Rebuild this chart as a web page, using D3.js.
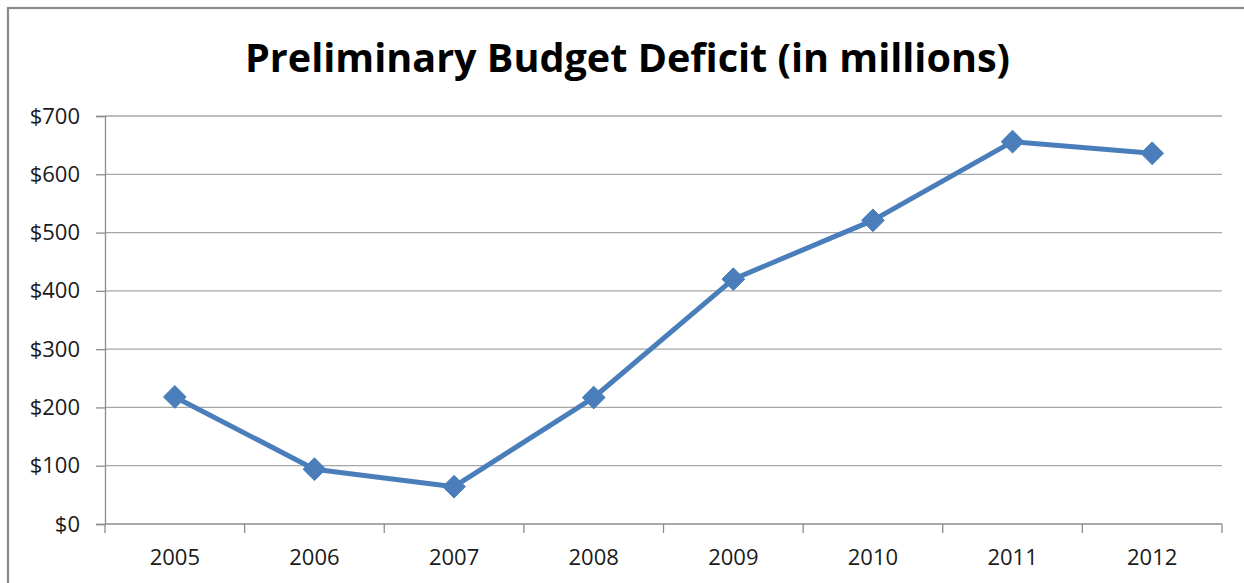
<!DOCTYPE html>
<html>
<head>
<meta charset="utf-8">
<script src="https://cdn.jsdelivr.net/npm/d3@7"></script>
<style>
  html, body { margin: 0; padding: 0; background: #fff; }
  svg { display: block; }
</style>
</head>
<body>
<svg id="chart" width="1244" height="583"></svg>
<script>
// Preliminary budget deficit by year, in millions of dollars
const years = ["2005", "2006", "2007", "2008", "2009", "2010", "2011", "2012"];
const deficit = [218, 94, 64, 217, 420, 521, 656, 636];
const yTicks = [0, 100, 200, 300, 400, 500, 600, 700];
const titleText = "Preliminary Budget Deficit (in millions)";

const svg = d3.select("#chart");
const W = 1244, H = 583;
const plot = { left: 105, right: 1222, top: 116, bottom: 524 };
const font = "'Open Sans', 'DejaVu Sans', sans-serif";

// Chart frame
svg.append("rect")
  .attr("x", 8).attr("y", 8)
  .attr("width", W + 20).attr("height", H + 20)
  .attr("fill", "#fff")
  .attr("stroke", "#8a8a8a")
  .attr("stroke-width", 2.2);

// Title
svg.append("text")
  .attr("x", 245).attr("y", 72)
  .attr("font-family", font)
  .attr("font-weight", 700)
  .attr("font-size", 39)
  .attr("fill", "#000")
  .attr("textLength", 765)
  .attr("lengthAdjust", "spacingAndGlyphs")
  .text(titleText);

const x = d3.scaleBand().domain(years).range([plot.left, plot.right]);
const y = d3.scaleLinear().domain([0, 700]).range([plot.bottom, plot.top]);

// Horizontal gridlines
svg.append("g")
  .selectAll("line")
  .data(yTicks.filter(t => t > 0))
  .join("line")
  .attr("x1", plot.left).attr("x2", plot.right)
  .attr("y1", d => y(d)).attr("y2", d => y(d))
  .attr("stroke", "#a6a6a6")
  .attr("stroke-width", 1.3);

// Y axis
const yAxis = svg.append("g")
  .attr("transform", `translate(${plot.left},0)`)
  .call(d3.axisLeft(y).tickValues(yTicks).tickSize(9).tickPadding(16)
    .tickFormat(d => "$" + d));
yAxis.select(".domain").attr("stroke", "#8c8c8c").attr("stroke-width", 1.3);
yAxis.selectAll(".tick line").attr("stroke", "#8c8c8c").attr("stroke-width", 1.3);
yAxis.selectAll(".tick text")
  .attr("font-family", font)
  .attr("font-size", 22)
  .attr("fill", "#1a1a1a");

// X axis with ticks between categories
const xAxis = svg.append("g")
  .attr("transform", `translate(0,${plot.bottom})`);
xAxis.append("line")
  .attr("x1", plot.left).attr("x2", plot.right)
  .attr("stroke", "#8c8c8c").attr("stroke-width", 1.3);
const boundaries = years.map(d => x(d)).concat([x(years[years.length - 1]) + x.bandwidth()]);
xAxis.selectAll("line.tick")
  .data(boundaries)
  .join("line")
  .attr("class", "tick")
  .attr("x1", d => d).attr("x2", d => d)
  .attr("y1", 0).attr("y2", 9)
  .attr("stroke", "#8c8c8c").attr("stroke-width", 1.3);
xAxis.selectAll("text")
  .data(years)
  .join("text")
  .attr("x", d => x(d) + x.bandwidth() / 2)
  .attr("y", 41)
  .attr("text-anchor", "middle")
  .attr("font-family", font)
  .attr("font-size", 22)
  .attr("fill", "#1a1a1a")
  .text(d => d);

// Series line
const pts = years.map((yr, i) => ({ yr, v: deficit[i] }));
const cx = d => x(d.yr) + x.bandwidth() / 2;

svg.append("path")
  .datum(pts)
  .attr("fill", "none")
  .attr("stroke", "#4a7ebb")
  .attr("stroke-width", 5)
  .attr("stroke-linejoin", "round")
  .attr("d", d3.line().x(cx).y(d => y(d.v)));

// Diamond markers
svg.append("g")
  .selectAll("path")
  .data(pts)
  .join("path")
  .attr("transform", d => `translate(${cx(d)},${y(d.v)})`)
  .attr("d", d3.symbol().type(d3.symbolDiamond2).size(330))
  .attr("fill", "#4a7ebb")
  .attr("stroke", "#4a7ebb")
  .attr("stroke-width", 1);
</script>
</body>
</html>
